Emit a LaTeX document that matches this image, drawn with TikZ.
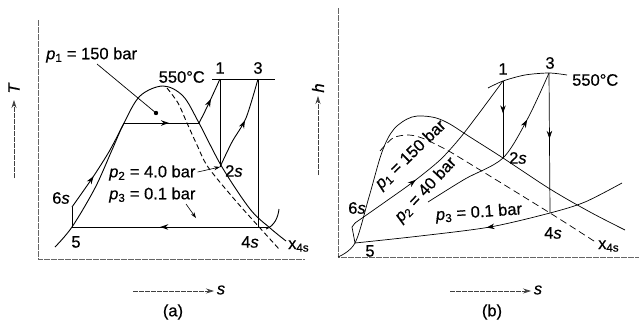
\documentclass[tikz,border=0pt]{standalone}
\usepackage{fontspec}
\setmainfont{Liberation Sans}
\newfontfamily\lblfont{Liberation Sans}[FakeBold=0.5]
\usetikzlibrary{arrows.meta,decorations.markings}
\tikzset{
  ln/.style={line width=0.9pt},
  thin/.style={line width=0.7pt},
  frame/.style={line width=0.9pt, black!60, dash pattern=on 6pt off 1pt},
  axis/.style={line width=0.7pt, black!75, dash pattern=on 5pt off 1pt, -{Stealth[length=8pt,width=5pt]}},
  arrowat/.style={postaction={decorate},decoration={markings,mark=at position #1 with {\arrow{Stealth[length=8pt,width=5.5pt]}}}},
  lbl/.style={font=\lblfont\fontsize{16.5}{18}\selectfont, inner sep=0pt},
  leader/.style={line width=0.6pt, -{Stealth[length=6pt,width=4pt]}},
}
\newcommand{\pp}[1]{\textit{p}\textsubscript{#1}}
\begin{document}
\begin{tikzpicture}[x=1pt,y=-1pt]
\useasboundingbox (0,0) rectangle (639,327);
% ================= (a) =================
\coordinate (aF0) at (38,20);
\coordinate (aF1) at (38,259);
\coordinate (aF2) at (305,259);
\draw[frame] (aF0) -- (aF1) -- (aF2);
\coordinate (aT0) at (14,178);
\coordinate (aT1) at (14,100);
\draw[axis] (aT0) -- (aT1);
\node[lbl, rotate=90] (aTl) at (14,88) {\textit{T}};
\coordinate (aS0) at (133,291);
\coordinate (aS1) at (214,291);
\draw[axis] (aS0) -- (aS1);
\node[lbl] (aSl) at (221,290) {\textit{s}};
\node[lbl] (acap) at (173,312) {(a)};

\coordinate (a1) at (220,79);
\coordinate (a3) at (258,79);
\coordinate (a2s) at (220,167);
\coordinate (a4s) at (258,227);
\coordinate (a4e) at (268,227);
\coordinate (a5) at (72,227);
\coordinate (a6s) at (72,207);
\coordinate (af) at (124,123);
\coordinate (ag) at (199,123);
\coordinate (adot) at (156,113);
\coordinate (aIs0) at (212,79);
\coordinate (aIs1) at (275,79);

% dome
\draw[ln] plot[smooth, tension=0.55] coordinates {(55,247) (72,227) (95,188) (112,150) (124,123) (140,96) (163,86) (183,96) (199,123) (222,167) (250,209) (270,228) (286,241)};
% quality line
\draw[ln, dash pattern=on 5pt off 3pt] plot[smooth, tension=0.5] coordinates {(167,88) (178,103) (187,123) (197,145) (208,167) (235,200) (260,228) (279,249)};
% pump and heating
\draw[ln] (a5) -- (a6s);
\draw[ln, arrowat=0.38] plot[smooth, tension=0.5] coordinates {(72,207) (93,177) (110,150) (124,123)};
\draw[ln, arrowat=0.6] (af) -- (ag);
\draw[ln, arrowat=0.55] (ag) .. controls (207,108) and (214,92) .. (a1);
\draw[ln] (a1) -- (a2s);
\draw[ln, arrowat=0.55] plot[smooth, tension=0.5] coordinates {(220,167) (232,142) (246,118) (258,79)};
\draw[ln] (a3) -- (a4s);
\draw[ln, arrowat=0.55] (a4e) -- (a5);
\draw[thin] (aIs0) -- (aIs1);
\draw[ln] (266,229) .. controls (274,226) and (278,218) .. (279,209);
% labels
\node[lbl, anchor=west] (ap1) at (46,55) {\pp{1} = 150 bar};
\fill (adot) circle (2.2pt);
\draw[thin] (97,64) -- (adot);
\node[lbl, anchor=east] (aT550) at (205,77) {550°C};
\node[lbl] (al1) at (220,68) {1};
\node[lbl] (al3) at (258,68) {3};
\node[lbl, anchor=west] (ap2) at (109,173) {\pp{2} = 4.0 bar};
\draw[leader] (ap2.east) ++(2,-1) -- (a2s);
\node[lbl, anchor=west] (al2s) at (225,171) {2\textit{s}};
\node[lbl, anchor=west] (ap3) at (109,195) {\pp{3} = 0.1 bar};
\coordinate (ap3a) at (186,204);
\coordinate (ap3b) at (196,218);
\draw[leader] (ap3a) -- (ap3b);
\node[lbl] (al6s) at (61,198) {6\textit{s}};
\node[lbl] (al5) at (76,242) {5};
\node[lbl] (al4s) at (250,242) {4\textit{s}};
\node[lbl, anchor=west] (ax4s) at (288,246) {x\textsubscript{4s}};

% ================= (b) =================
\coordinate (bF0) at (338,8);
\coordinate (bF1) at (338,257);
\coordinate (bF2) at (639,257);
\draw[frame] (bF0) -- (bF1) -- (bF2);
\coordinate (bH0) at (318,175);
\coordinate (bH1) at (318,96);
\draw[axis] (bH0) -- (bH1);
\node[lbl, rotate=90] (bHl) at (318,88) {\textit{h}};
\coordinate (bS0) at (450,291);
\coordinate (bS1) at (531,291);
\draw[axis] (bS0) -- (bS1);
\node[lbl] (bSl) at (538,290) {\textit{s}};
\node[lbl] (bcap) at (492,312) {(b)};

\coordinate (b1) at (503,81);
\coordinate (b3) at (549,73);
\coordinate (b2s) at (503,158);
\coordinate (b4s) at (550,213);
\coordinate (b5) at (355,243);
\coordinate (b6s) at (352,227);

% dome
\draw[thin] plot[smooth, tension=0.55] coordinates {(338,257) (355,243) (369,197) (382,152) (394,129) (412,117) (432,117) (448,123) (470,137) (503,158) (550,189) (590,212) (625,230)};
% quality line
\draw[thin, dash pattern=on 7pt off 4pt] plot[smooth, tension=0.5] coordinates {(380,151) (393,138) (408,135) (422,138) (445,149) (467,162) (550,213) (597,243)};
% pump
\draw[thin] (b5) -- (b6s) -- (355,223);
% p1 line
\draw[thin, arrowat=0.36] plot[smooth, tension=0.5] coordinates {(355,223) (385,202) (413,182) (440,160) (460,138) (480,112) (503,81)};
% p2 line
\draw[thin, arrowat=0.72] plot[smooth, tension=0.5] coordinates {(428,202) (465,179) (503,158) (528,118) (549,73)};
% p3 line
\draw[thin, arrowat=0.52] plot[smooth, tension=0.5] coordinates {(622,183) (585,202) (550,213) (490,227) (420,236) (355,243)};
% expansions
\draw[thin, arrowat=0.42] (b1) -- (b2s);
\draw[thin, arrowat=0.47] (b3) -- (b4s);
% isotherm
\draw[thin] plot[smooth, tension=0.5] coordinates {(488,88) (503,81) (525,75) (549,73) (567,75)};
% labels
\node[lbl] (bl1) at (503,69) {1};
\node[lbl] (bl3) at (550,63) {3};
\node[lbl, anchor=west] (bT550) at (572,80) {550°C};
\node[lbl, anchor=west] (bl2s) at (509,158) {2\textit{s}};
\node[lbl] (bl4s) at (553,233) {4\textit{s}};
\node[lbl, anchor=west] (bx4s) at (598,246) {x\textsubscript{4s}};
\node[lbl] (bl5) at (370,251) {5};
\node[lbl] (bl6s) at (357,208) {6\textit{s}};
\node[lbl, rotate=44] (bp1) at (411,155) {\pp{1} = 150 bar};
\node[lbl, rotate=47] (bp2) at (426,190) {\pp{2} = 40 bar};
\node[lbl, rotate=4] (bp3) at (479,213) {\pp{3} = 0.1 bar};
\end{tikzpicture}
\end{document}
